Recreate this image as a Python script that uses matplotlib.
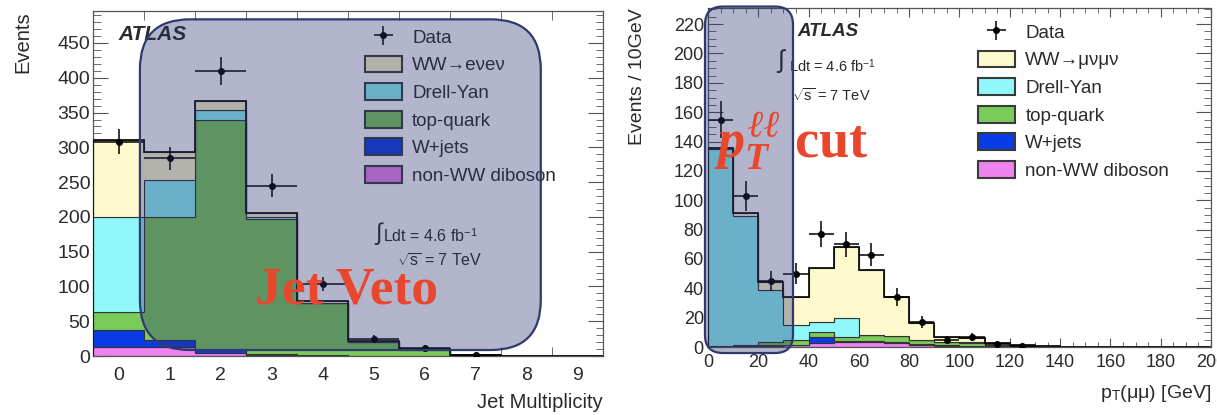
import numpy as np
import matplotlib
matplotlib.use("Agg")
import matplotlib.pyplot as plt
from matplotlib.patches import Patch, FancyBboxPatch

plt.rcParams['font.family'] = ['Liberation Sans', 'DejaVu Sans']
plt.rcParams['mathtext.fontset'] = 'custom'
plt.rcParams['mathtext.rm'] = 'Liberation Sans'
plt.rcParams['mathtext.it'] = 'Liberation Serif:italic:bold'

W, H = 1217, 415

# ---- jet multiplicity (ee channel) ----
jet_edges = np.arange(-0.5, 10.0, 1.0)
jet_diboson = [13, 13, 5, 2, 1, 0.5, 0.2, 0, 0, 0]
jet_wjets = [24, 10, 3, 1, 0.5, 0, 0, 0, 0, 0]
jet_top = [26, 177, 332, 194, 74, 19, 9, 2, 0.5, 0]
jet_dy = [137, 53, 13, 3, 1, 0.5, 0.3, 0, 0, 0]
jet_ww = [110, 40, 14, 5, 2, 1, 0.5, 0, 0, 0]
jet_data = [308, 284, 410, 245, 103, 25, 12, 1]
jet_data_err = [18, 17, 20, 16, 10, 5, 3.5, 1]

# ---- dilepton pT (mumu channel), 10 GeV bins ----
pt_edges = np.arange(0, 210, 10)
pt_diboson = [0.2, 0.3, 0.8, 1.2, 2.5, 3.5, 3.5, 3, 1.5, 1, 0.8, 0.5, 0.3, 0.1, 0, 0, 0, 0, 0, 0]
pt_wjets = [0.1, 0.2, 0.3, 0.5, 4.5, 0.5, 0.5, 0.5, 0.3, 0.2, 0.2, 0.1, 0.1, 0, 0, 0, 0, 0, 0, 0]
pt_top = [0.3, 0.8, 2, 3, 3.5, 3, 4, 4, 3, 2.3, 2, 1, 0.5, 0.2, 0, 0, 0, 0, 0, 0]
pt_dy = [134, 88, 36, 10.5, 6.5, 12.5, 0.5, 0.3, 0.3, 0.2, 0.2, 0.1, 0.1, 0, 0, 0, 0, 0, 0, 0]
pt_ww = [1, 2, 5, 19, 36.5, 48.8, 44, 26.5, 11, 3.3, 2.8, 1.3, 0.5, 0.2, 0, 0, 0, 0, 0, 0]
pt_data = [155, 103, 45, 50, 77, 70, 63, 34, 17, 5, 7, 2, 1]
pt_data_err = [12.5, 10, 7, 7, 9, 8.5, 8, 6, 4, 2.2, 2.6, 1.4, 1]

labels = ['Data', None, 'Drell-Yan', 'top-quark', 'W+jets', 'non-WW diboson']
colors = {
    'ww': '#fffacd',
    'dy': '#90f8fb',
    'top': '#7acc5a',
    'wjets': '#0a3ce6',
    'diboson': '#ee82ee',
}

fig = plt.figure(figsize=(W / 100, H / 100), dpi=100)


def px_axes(left, top, right, bottom):
    return [left / W, 1 - bottom / H, (right - left) / W, (bottom - top) / H]


def fpos(x, y):
    return x / W, 1 - y / H


def draw_stack(ax, edges, layers):
    base = np.zeros(len(edges) - 1)
    for values, color in layers:
        top = base + np.asarray(values, dtype=float)
        ax.stairs(top, edges, baseline=base, fill=True, facecolor=color,
                  edgecolor='#333333', linewidth=0.8, zorder=2)
        base = top
    ax.stairs(base, edges, color='#111111', linewidth=1.3, zorder=3)


def draw_data(ax, edges, values, errs):
    n = len(values)
    centers = 0.5 * (edges[:n] + edges[1:n + 1])
    half = 0.5 * np.diff(edges)[:n]
    return ax.errorbar(centers, values, xerr=half, yerr=errs, fmt='o', ms=4,
                       color='black', elinewidth=1.1, capsize=0, zorder=4)


def style_axes(ax):
    for sp in ax.spines.values():
        sp.set_color('#555555')
        sp.set_linewidth(0.9)
    ax.tick_params(which='both', direction='in', top=True, right=True,
                   color='#555555', labelcolor='#2a2a2a')


def add_legend(ax, data_handle, ww_label, left, top):
    handles = [data_handle] + [
        Patch(facecolor=colors[k], edgecolor='#3a3a3a', linewidth=1.5)
        for k in ('ww', 'dy', 'top', 'wjets', 'diboson')
    ]
    names = list(labels)
    names[1] = ww_label
    leg = ax.legend(handles, names, loc='upper left', bbox_to_anchor=fpos(left, top),
                    bbox_transform=fig.transFigure, frameon=False, fontsize=13.5,
                    handlelength=1.97, handleheight=1.0, handletextpad=0.55,
                    labelspacing=0.47, borderpad=0, borderaxespad=0)
    for t in leg.get_texts():
        t.set_color('#2a2a2a')


def veto_box(ax, x0, x1, y0, y1, radius):
    (p0x, p0y), (p1x, p1y) = ax.transData.transform([(x0, y0), (x1, y1)])
    d = fig.dpi
    box = FancyBboxPatch((p0x / d, p0y / d), (p1x - p0x) / d, (p1y - p0y) / d,
                         boxstyle=f"round,pad=0,rounding_size={radius / d}",
                         transform=fig.dpi_scale_trans,
                         facecolor=(44 / 255, 50 / 255, 114 / 255, 0.36),
                         edgecolor='#2f3a6e', linewidth=1.6, zorder=10)
    fig.add_artist(box)


def stack_layers(dib, wj, top, dy, ww):
    return [(dib, colors['diboson']), (wj, colors['wjets']), (top, colors['top']),
            (dy, colors['dy']), (ww, colors['ww'])]


# ---------------- left: jet multiplicity ----------------
ax1 = fig.add_axes(px_axes(93, 11, 603, 356))
draw_stack(ax1, jet_edges, stack_layers(jet_diboson, jet_wjets, jet_top, jet_dy, jet_ww))
h1 = draw_data(ax1, jet_edges, jet_data, jet_data_err)
ax1.set_xlim(-0.5, 9.5)
ax1.set_ylim(0, 496)
style_axes(ax1)
ax1.set_xticks(np.arange(0, 10))
ax1.set_xticks(jet_edges, minor=True)
ax1.set_yticks(np.arange(0, 451, 50))
ax1.set_yticks(np.arange(0, 491, 10), minor=True)
ax1.tick_params(axis='x', which='major', length=0, labelsize=14, pad=8)
ax1.tick_params(axis='x', which='minor', length=6.5)
ax1.tick_params(axis='y', which='major', length=10.8, labelsize=14, pad=2)
ax1.tick_params(axis='y', which='minor', length=5.4)
ax1.set_ylabel('Events', fontsize=14.5, loc='top', color='#2a2a2a')
ax1.yaxis.set_label_coords(-0.118, 1.0)
ax1.set_xlabel('Jet Multiplicity', fontsize=14.5, loc='right', color='#2a2a2a')
ax1.xaxis.set_label_coords(1.0, -0.107)
add_legend(ax1, h1, 'WW→eνeν', 365, 28)

# ---------------- right: dilepton pT ----------------
ax2 = fig.add_axes(px_axes(708, 8, 1211, 347))
draw_stack(ax2, pt_edges, stack_layers(pt_diboson, pt_wjets, pt_top, pt_dy, pt_ww))
h2 = draw_data(ax2, pt_edges, pt_data, pt_data_err)
ax2.set_xlim(0, 200)
ax2.set_ylim(0, 231)
style_axes(ax2)
ax2.set_xticks(np.arange(0, 201, 20))
ax2.set_xticks(np.arange(0, 201, 5), minor=True)
ax2.set_yticks(np.arange(0, 221, 20))
ax2.set_yticks(np.arange(0, 231, 5), minor=True)
ax2.tick_params(axis='x', which='major', length=6.5, labelsize=13, pad=5)
ax2.tick_params(axis='x', which='minor', length=3.3)
ax2.tick_params(axis='y', which='major', length=10.8, labelsize=13, pad=3)
ax2.tick_params(axis='y', which='minor', length=5.4)
ax2.set_ylabel('Events / 10GeV', fontsize=14, loc='top', color='#2a2a2a')
ax2.yaxis.set_label_coords(-0.123, 1.0)
ax2.set_xlabel(r'p$_{\rm T}$(μμ) [GeV]', fontsize=14, loc='right', color='#2a2a2a')
ax2.xaxis.set_label_coords(1.0, -0.106)
add_legend(ax2, h2, 'WW→μνμν', 978, 23)

# ATLAS labels and luminosity/energy text
txt = dict(color='#2a2a2a', zorder=2)
fig.text(*fpos(118, 35), 'ATLAS', fontsize=15, weight='bold', style='italic', va='center', **txt)
fig.text(*fpos(375, 234), '∫', fontsize=17, va='center', **txt)
fig.text(*fpos(383, 236), r'Ldt = 4.6 fb$^{-1}$', fontsize=11.5, va='center', **txt)
fig.text(*fpos(397, 261), r'$\sqrt{\rm s}$ = 7 TeV', fontsize=11.5, va='center', **txt)
fig.text(*fpos(797, 31), 'ATLAS', fontsize=13.5, weight='bold', style='italic', va='center', **txt)
fig.text(*fpos(777, 61), '∫', fontsize=18, va='center', **txt)
fig.text(*fpos(789, 66), r'Ldt = 4.6 fb$^{-1}$', fontsize=10.5, va='center', **txt)
fig.text(*fpos(792, 95), r'$\sqrt{\rm s}$ = 7 TeV', fontsize=10.5, va='center', **txt)

# highlighted cut regions
veto_box(ax1, 0.42, 8.28, 8.6, 484, 50)
veto_box(ax2, -1.2, 33.8, -4.1, 232, 18)

red = dict(color='#e8472d', family='Liberation Serif', weight='bold', va='baseline', zorder=11)
fig.text(*fpos(255, 303), 'Jet Veto', fontsize=38.5, **red)
fig.text(*fpos(714, 158), r'$p_{T}^{\ell\ell}$ cut', fontsize=39, **red)

fig.savefig('out.png', dpi=100)
